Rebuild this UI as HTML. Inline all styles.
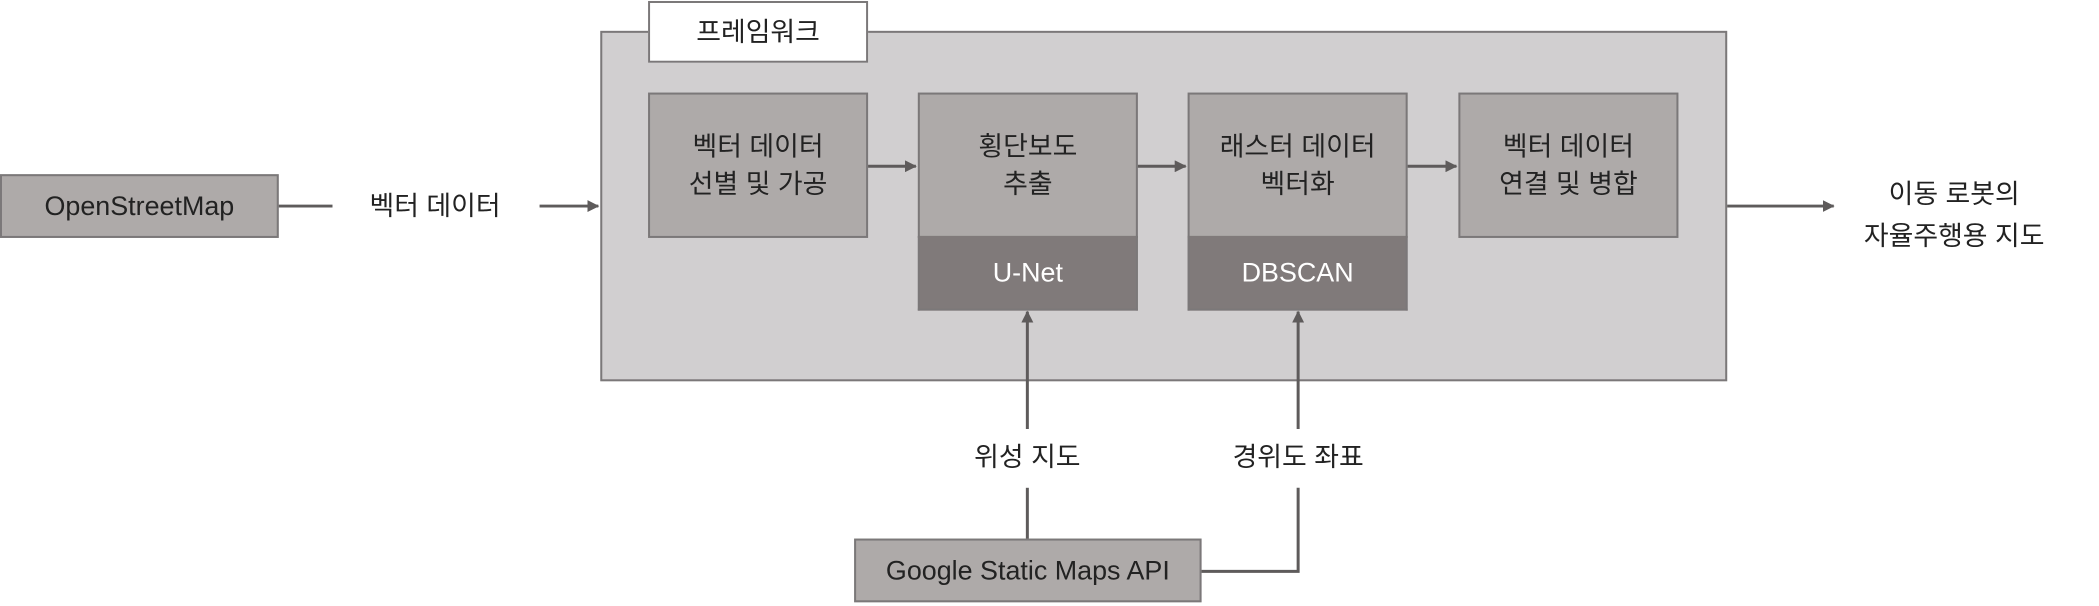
<!DOCTYPE html>
<html><head><meta charset="utf-8"><style>
body{margin:0;width:2099px;height:606px;background:#fff;position:relative;overflow:hidden;font-family:"Liberation Sans","Noto Sans CJK KR",sans-serif;color:#222}
#w{position:absolute;left:0;top:0;width:2099px;height:606px;transform:scale(0.9955);transform-origin:0 0}
.b{position:absolute;box-sizing:border-box;border:2px solid #7b7879;background:#aeaaa9;display:flex;align-items:center;justify-content:center;text-align:center;font-size:27px;line-height:38px}
.t{position:absolute;font-size:27px;line-height:40px;text-align:center;transform:translate(-50%,-50%);white-space:nowrap}
</style></head><body><div id="w">
<div class="b" style="left:603px;top:31px;width:1132px;height:352px;background:#d1cfd0"></div>
<div class="b" style="left:651px;top:1px;width:221px;height:62px;background:#fff">프레임워크</div>
<div class="b" style="left:0;top:175px;width:280px;height:64px">OpenStreetMap</div>
<div class="b" style="left:651px;top:93px;width:221px;height:146px">벡터 데이터<br>선별 및 가공</div>
<div class="b" style="left:922px;top:93px;width:221px;height:146px">횡단보도<br>추출</div>
<div class="b" style="left:922px;top:237px;width:221px;height:75px;background:#807a7a;color:#fff;border-top:none">U-Net</div>
<div class="b" style="left:1193px;top:93px;width:221px;height:146px">래스터 데이터<br>벡터화</div>
<div class="b" style="left:1193px;top:237px;width:221px;height:75px;background:#807a7a;color:#fff;border-top:none">DBSCAN</div>
<div class="b" style="left:1465px;top:93px;width:221px;height:146px">벡터 데이터<br>연결 및 병합</div>
<div class="b" style="left:858px;top:541px;width:349px;height:64px">Google Static Maps API</div>
<div class="t" style="left:437px;top:207px">벡터 데이터</div>
<div class="t" style="left:1032px;top:459px">위성 지도</div>
<div class="t" style="left:1304px;top:459px">경위도 좌표</div>
<div class="t" style="left:1963px;top:216px;line-height:42px">이동 로봇의<br>자율주행용 지도</div>
<svg width="2099" height="606" style="position:absolute;left:0;top:0" fill="none" stroke="#5e5b5b" stroke-width="3">
<defs><marker id="a" markerWidth="12" markerHeight="12" refX="11" refY="6" orient="auto" markerUnits="userSpaceOnUse"><path d="M0,0L12,6L0,12z" fill="#5e5b5b" stroke="none"/></marker></defs>
<line x1="280" y1="207" x2="334" y2="207"/>
<line x1="542" y1="207" x2="601" y2="207" marker-end="url(#a)"/>
<line x1="872" y1="167" x2="920" y2="167" marker-end="url(#a)"/>
<line x1="1143" y1="167" x2="1191" y2="167" marker-end="url(#a)"/>
<line x1="1414" y1="167" x2="1463" y2="167" marker-end="url(#a)"/>
<line x1="1735" y1="207" x2="1842" y2="207" marker-end="url(#a)"/>
<line x1="1032" y1="431" x2="1032" y2="313" marker-end="url(#a)"/>
<line x1="1032" y1="490" x2="1032" y2="541"/>
<line x1="1304" y1="431" x2="1304" y2="313" marker-end="url(#a)"/>
<polyline points="1304,490 1304,574 1207,574"/>
</svg>
</div></body></html>
